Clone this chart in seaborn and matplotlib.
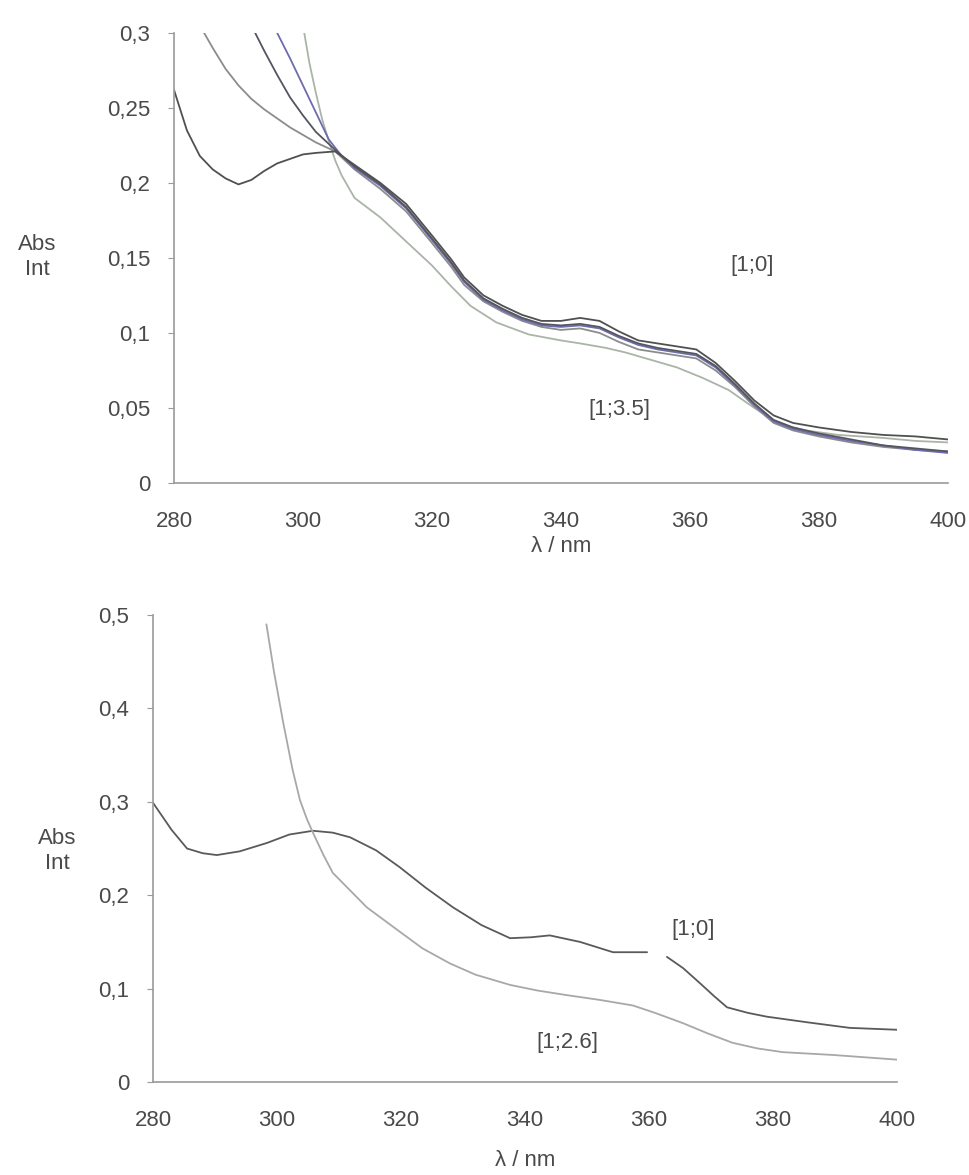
import numpy as np
import pandas as pd
import matplotlib
matplotlib.use("Agg")
import matplotlib.pyplot as plt
import seaborn as sns

# UV-vis absorption spectra
# top panel: titration series, five spectra
wl_a = [280, 282, 284, 286, 288, 290, 292, 294, 296, 298, 300, 302, 305, 308, 312, 316, 320, 323, 325,
        328, 331, 334, 337, 340, 343, 346, 349, 352, 355, 358, 361, 364, 367, 370, 373, 376, 380, 385,
        390, 395, 400]
abs_a = [0.262, 0.235, 0.218, 0.209, 0.203, 0.199, 0.202, 0.208, 0.213, 0.216, 0.219, 0.220, 0.221,
         0.212, 0.200, 0.186, 0.165, 0.149, 0.137, 0.125, 0.118, 0.112, 0.108, 0.108, 0.110, 0.108,
         0.101, 0.095, 0.093, 0.091, 0.089, 0.080, 0.068, 0.055, 0.045, 0.040, 0.037, 0.034, 0.032,
         0.031, 0.029]

wl_b = [282, 284, 286, 288, 290, 292, 294, 296, 298, 300, 302, 305, 308, 312, 316, 320, 323, 325, 328,
        331, 334, 337, 340, 343, 346, 349, 352, 355, 358, 361, 364, 367, 370, 373, 376, 380, 385, 390,
        395, 400]
abs_b = [0.33, 0.305, 0.29, 0.276, 0.265, 0.256, 0.249, 0.243, 0.237, 0.232, 0.227, 0.221, 0.209,
         0.196, 0.181, 0.160, 0.144, 0.132, 0.121, 0.114, 0.108, 0.104, 0.102, 0.103, 0.100, 0.094,
         0.089, 0.087, 0.085, 0.083, 0.075, 0.064, 0.051, 0.040, 0.035, 0.031, 0.027, 0.024, 0.022,
         0.021]

wl_c = [290, 292, 294, 296, 298, 300, 302, 305, 308, 312, 316, 320, 323, 325, 328, 331, 334, 337, 340,
        343, 346, 349, 352, 355, 358, 361, 364, 367, 370, 373, 376, 380, 385, 390, 395, 400]
abs_c = [0.33, 0.305, 0.288, 0.272, 0.257, 0.245, 0.234, 0.222, 0.211, 0.199, 0.184, 0.163, 0.147,
         0.135, 0.123, 0.116, 0.110, 0.106, 0.105, 0.106, 0.104, 0.098, 0.093, 0.090, 0.088, 0.086,
         0.078, 0.066, 0.053, 0.042, 0.037, 0.033, 0.029, 0.025, 0.023, 0.021]

wl_d = [294, 296, 298, 300, 302, 304, 306, 308, 312, 316, 320, 323, 325, 328, 331, 334, 337, 340, 343,
        346, 349, 352, 355, 358, 361, 364, 367, 370, 373, 376, 380, 385, 390, 395, 400]
abs_d = [0.33, 0.30, 0.283, 0.265, 0.247, 0.229, 0.218, 0.210, 0.198, 0.183, 0.162, 0.146, 0.134,
         0.122, 0.115, 0.109, 0.105, 0.104, 0.105, 0.103, 0.097, 0.092, 0.089, 0.087, 0.085, 0.077,
         0.065, 0.052, 0.041, 0.036, 0.032, 0.028, 0.025, 0.022, 0.020]

wl_e = [299, 300, 301, 302, 303, 304, 305, 306, 308, 312, 316, 320, 323, 326, 330, 335, 340, 343, 347,
        350, 354, 358, 362, 366, 370, 374, 378, 383, 390, 395, 400]
abs_e = [0.35, 0.305, 0.28, 0.26, 0.242, 0.228, 0.215, 0.205, 0.190, 0.177, 0.161, 0.145, 0.131,
         0.118, 0.107, 0.099, 0.095, 0.093, 0.090, 0.087, 0.082, 0.077, 0.070, 0.062, 0.050, 0.039,
         0.035, 0.032, 0.030, 0.028, 0.027]

# bottom panel: [1;0] and [1;2.6]
wl_f = [280, 283, 285.5, 288, 290.3, 294, 298.4, 302, 305.8, 309, 311.8, 316, 319.8, 324, 328.4,
        333, 337.6, 341, 344, 348.9, 354.2, 359.7, 361, 362.9, 365.5, 368.2, 370.5, 372.6, 376,
        379, 385.5, 392.4, 400]
abs_f = [0.299, 0.270, 0.250, 0.245, 0.243, 0.247, 0.256, 0.265, 0.269, 0.267, 0.262, 0.248, 0.230,
         0.208, 0.187, 0.168, 0.154, 0.155, 0.157, 0.150, 0.139, 0.139, np.nan, 0.134, 0.122, 0.106,
         0.092, 0.080, 0.074, 0.070, 0.064, 0.058, 0.056]

wl_g = [298.3, 299.5, 301, 302.5, 303.7, 304.8, 305.8, 307.5, 309, 314.5, 319.8, 323.5, 327.9, 332,
        337.6, 342, 346.8, 352, 357.4, 361, 365.5, 369.5, 373.5, 377.5, 381.6, 389.7, 400]
abs_g = [0.49, 0.44, 0.385, 0.335, 0.302, 0.282, 0.267, 0.243, 0.224, 0.187, 0.161, 0.143, 0.127,
         0.115, 0.104, 0.098, 0.093, 0.088, 0.082, 0.074, 0.063, 0.052, 0.042, 0.036, 0.032, 0.029,
         0.024]

top_ticks = [0, 0.05, 0.1, 0.15, 0.2, 0.25, 0.3]
bot_ticks = [0, 0.1, 0.2, 0.3, 0.4, 0.5]
x_ticks = [280, 300, 320, 340, 360, 380, 400]

sns.set_style("white")
plt.rcParams['font.family'] = ['Liberation Sans', 'DejaVu Sans']
txt = '#4a4a4a'
axcol = '#9a9a9a'
fs = 16

fig = plt.figure(figsize=(9.7, 11.75), dpi=100)
ax1 = fig.add_axes([0.1794, 0.589, 0.7976, 0.383])
ax2 = fig.add_axes([0.1577, 0.0791, 0.767, 0.3975])

top = [(wl_e, abs_e, '#abb4a8'), (wl_b, abs_b, '#8c8c8c'), (wl_d, abs_d, '#6c6cae'),
       (wl_c, abs_c, '#55555f'), (wl_a, abs_a, '#505050')]
for wl, ab, col in top:
    sns.lineplot(x=wl, y=ab, ax=ax1, color=col, lw=1.3, sort=False, estimator=None)

# dark bottom curve has a gap around the label
f = pd.DataFrame({'wl': wl_f, 'abs': abs_f})
ok = f['abs'].notna()
gap = f['abs'].isna().cumsum()
for _, seg in f[ok].groupby(gap[ok]):
    sns.lineplot(data=seg, x='wl', y='abs', ax=ax2, color='#5a5a5a', lw=1.3, sort=False, estimator=None)
sns.lineplot(x=wl_g, y=abs_g, ax=ax2, color='#a8a8a8', lw=1.3, sort=False, estimator=None)


def fmt(v):
    return '{:g}'.format(v).replace('.', ',')


for ax, ticks, lpad in [(ax1, top_ticks, 3), (ax2, bot_ticks, 14)]:
    ax.set_xlim(280, 400)
    ax.set_ylim(0, ticks[-1])
    ax.set_xticks(x_ticks)
    ax.set_xticklabels([str(t) for t in x_ticks])
    ax.set_yticks(ticks)
    ax.set_yticklabels([fmt(t) for t in ticks])
    ax.tick_params(axis='y', length=4, width=0.8, color=axcol, left=True, labelsize=fs,
                   labelcolor=txt, pad=13)
    ax.tick_params(axis='x', length=0, labelsize=fs, labelcolor=txt, pad=20)
    for s in ['top', 'right']:
        ax.spines[s].set_visible(False)
    for s in ['left', 'bottom']:
        ax.spines[s].set_color(axcol)
        ax.spines[s].set_linewidth(1.2)
    ax.set_xlabel('λ / nm', fontsize=fs, color=txt, labelpad=lpad)
    ax.set_ylabel('')
    ax.patch.set_alpha(0)

fig.text(37 / 970, 1 - 257 / 1175, 'Abs\nInt', ha='center', va='center', fontsize=fs,
         color=txt, linespacing=1.25)
fig.text(57 / 970, 1 - 851 / 1175, 'Abs\nInt', ha='center', va='center', fontsize=fs,
         color=txt, linespacing=1.25)

ax1.text(369.6, 0.145, '[1;0]', fontsize=fs, color=txt, ha='center', va='center')
ax1.text(349.1, 0.049, '[1;3.5]', fontsize=fs, color=txt, ha='center', va='center')
ax2.text(367.1, 0.163, '[1;0]', fontsize=fs, color=txt, ha='center', va='center')
ax2.text(346.8, 0.042, '[1;2.6]', fontsize=fs, color=txt, ha='center', va='center')

fig.savefig('out.png', dpi=100)
